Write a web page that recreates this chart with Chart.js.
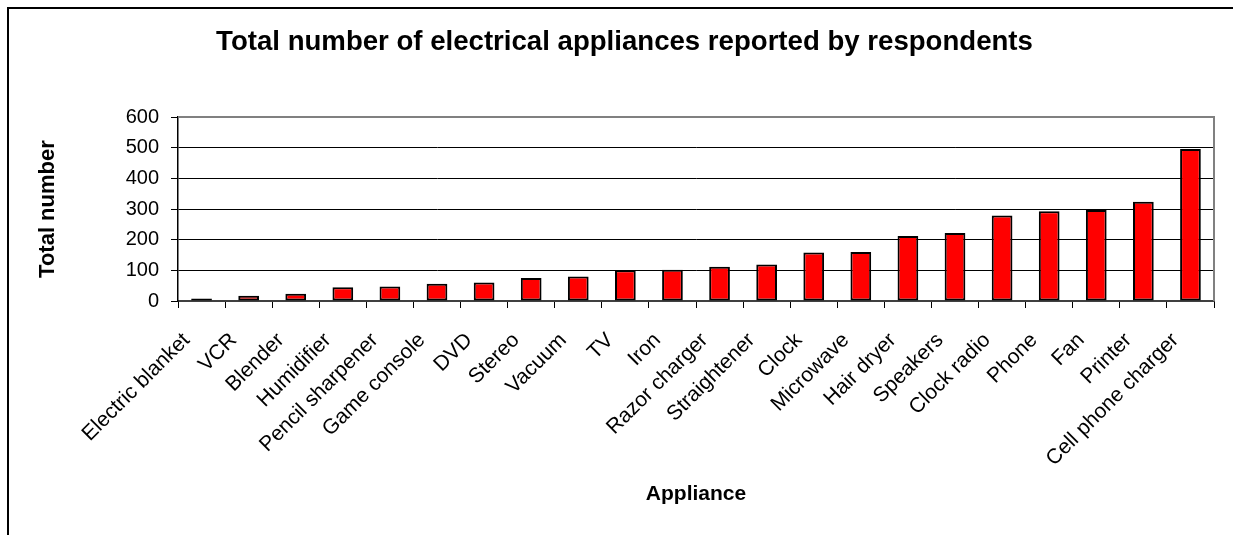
<!DOCTYPE html>
<html>
<head>
<meta charset="utf-8">
<title>Electrical appliances</title>
<script src="https://cdn.jsdelivr.net/npm/chart.js@4/dist/chart.umd.min.js"></script>
<style>
  html, body { margin: 0; padding: 0; background: #fff; }
  canvas { display: block; }
</style>
</head>
<body>
<canvas id="c" width="1233" height="535"></canvas>
<script>
// Appliance categories, sorted by count
const appliances = [
  'Electric blanket', 'VCR', 'Blender', 'Humidifier', 'Pencil sharpener',
  'Game console', 'DVD', 'Stereo', 'Vacuum', 'TV', 'Iron', 'Razor charger',
  'Straightener', 'Clock', 'Microwave', 'Hair dryer', 'Speakers',
  'Clock radio', 'Phone', 'Fan', 'Printer', 'Cell phone charger'
];

// Total number reported for each appliance
const totals = [
  8, 17, 24, 45, 47, 56, 60, 75, 80, 100, 102, 112,
  119, 158, 160, 212, 222, 279, 293, 297, 324, 496
];

// Value axis ticks
const yTicks = [0, 100, 200, 300, 400, 500, 600];

const FONT = '"Liberation Sans", Arial, Helvetica, sans-serif';

// Outer frame around the whole chart and the grey plot-area frame (top/right)
const frames = {
  id: 'frames',
  beforeDraw(chart) {
    const ctx = chart.ctx;
    ctx.save();
    ctx.strokeStyle = '#000';
    ctx.lineWidth = 2;
    ctx.beginPath();
    ctx.moveTo(8, 600);
    ctx.lineTo(8, 8);
    ctx.lineTo(1260, 8);
    ctx.stroke();
    ctx.restore();
  },
  afterDatasetsDraw(chart) {
    const { left, right, top, bottom } = chart.chartArea;
    const ctx = chart.ctx;
    ctx.save();
    ctx.strokeStyle = '#808080';
    ctx.lineWidth = 2;
    ctx.beginPath();
    ctx.moveTo(left, top);
    ctx.lineTo(right, top);
    ctx.lineTo(right, bottom);
    ctx.stroke();
    ctx.restore();
  }
};

new Chart(document.getElementById('c'), {
  type: 'bar',
  data: {
    labels: appliances,
    datasets: [{
      label: 'Total number',
      data: totals,
      backgroundColor: '#ff0000',
      borderColor: '#000000',
      borderWidth: 2,
      borderSkipped: false,
      categoryPercentage: 1,
      barPercentage: 0.44
    }]
  },
  options: {
    responsive: false,
    animation: false,
    devicePixelRatio: 1,
    layout: { padding: { left: 35, right: 19, top: 0, bottom: 0 } },
    plugins: {
      legend: { display: false },
      tooltip: { enabled: false },
      title: {
        display: true,
        text: 'Total number of electrical appliances reported by respondents',
        color: '#000',
        font: { family: FONT, size: 27.6, weight: 'bold' },
        padding: { top: 26, bottom: 58 }
      }
    },
    scales: {
      x: {
        afterFit(scale) { scale.height = 234; },
        grid: {
          display: true,
          drawOnChartArea: false,
          drawTicks: true,
          tickLength: 7,
          tickColor: '#000',
          offset: true
        },
        border: { display: true, color: '#404040', width: 2 },
        ticks: {
          autoSkip: false,
          maxRotation: 45,
          minRotation: 45,
          padding: 20,
          labelOffset: -15,
          color: '#000',
          font: { family: FONT, size: 21 }
        },
        title: {
          display: true,
          text: 'Appliance',
          color: '#000',
          font: { family: FONT, size: 21, weight: 'bold' },
          padding: { top: 0, bottom: 28 }
        }
      },
      y: {
        min: 0,
        max: 600,
        afterFit(scale) { scale.width = 178 - 35; },
        afterBuildTicks(scale) { scale.ticks = yTicks.map(v => ({ value: v })); },
        grid: {
          color: ctx => (ctx.tick && ctx.tick.value === 600) ? 'rgba(0,0,0,0)' : '#000',
          lineWidth: 1,
          drawTicks: true,
          tickLength: 7,
          tickColor: '#000'
        },
        border: { display: true, color: '#000', width: 1.5 },
        ticks: {
          padding: 12,
          color: '#000',
          font: { family: FONT, size: 20 }
        },
        title: {
          display: true,
          text: 'Total number',
          color: '#000',
          font: { family: FONT, size: 22, weight: 'bold' },
          padding: { top: 0, bottom: 0 }
        }
      }
    }
  },
  plugins: [frames]
});
</script>
</body>
</html>
